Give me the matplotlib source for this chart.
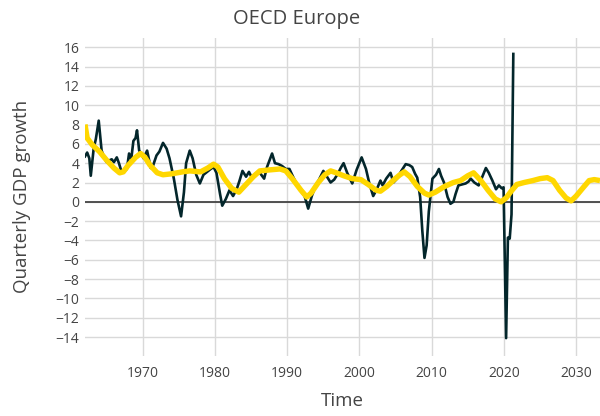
import matplotlib
matplotlib.use("Agg")
import matplotlib.pyplot as plt

plt.rcParams['font.family'] = ['Open Sans', 'DejaVu Sans']

title = "OECD Europe"
xlabel = "Time"
ylabel = "Quarterly GDP growth"

gdp_years = [1962.0, 1962.3, 1962.6, 1962.8, 1963.2, 1963.5, 1963.9, 1964.3, 1964.7, 1965.0,
             1965.4, 1965.7, 1966.0, 1966.4, 1966.7, 1967.1, 1967.5, 1967.8, 1968.1, 1968.4,
             1968.7, 1969.0, 1969.2, 1969.5, 1969.8, 1970.1, 1970.6, 1971.1, 1971.4, 1971.9,
             1972.3, 1972.8, 1973.3, 1973.7, 1974.3, 1974.8, 1975.3, 1975.7, 1976.0, 1976.5,
             1976.9, 1977.4, 1977.9, 1978.4, 1978.9, 1979.4, 1979.8, 1980.2, 1980.7, 1981.0,
             1981.5, 1982.0, 1982.5, 1983.0, 1983.4, 1983.8, 1984.3, 1984.7, 1985.1, 1985.6,
             1986.2, 1986.8, 1987.2, 1987.9, 1988.3, 1988.8, 1989.3, 1989.8, 1990.3, 1990.8,
             1991.4, 1991.9, 1992.4, 1992.9, 1993.4, 1993.9, 1994.4, 1995.0, 1995.5, 1996.0,
             1996.5, 1997.0, 1997.4, 1997.8, 1998.3, 1999.0, 1999.6, 2000.3, 2000.9, 2001.4,
             2001.9, 2002.4, 2002.9, 2003.2, 2003.7, 2004.3, 2004.7, 2005.2, 2005.8, 2006.4,
             2006.9, 2007.3, 2007.7, 2008.0, 2008.4, 2008.7, 2009.0, 2009.3, 2009.6, 2010.1,
             2010.6, 2011.0, 2011.3, 2011.7, 2012.2, 2012.6, 2013.0, 2013.3, 2013.7, 2014.2,
             2014.7, 2015.1, 2015.4, 2015.9, 2016.5, 2016.9, 2017.5, 2017.9, 2018.4, 2018.9,
             2019.3, 2019.7, 2019.95, 2020.3, 2020.55, 2020.8, 2021.05, 2021.3]
gdp_values = [4.7, 5.1, 4.5, 2.7, 5.5, 6.5, 8.4, 5.3, 4.5, 4.1,
              4.3, 4.4, 4.1, 4.6, 4.0, 3.0, 3.2, 3.4, 5.0, 4.4,
              6.3, 6.6, 7.4, 5.3, 5.0, 4.5, 5.3, 3.5, 3.7, 4.8,
              5.2, 6.1, 5.5, 4.5, 2.4, 0.2, -1.5, 1.0, 4.0, 5.3,
              4.5, 2.8, 1.9, 2.8, 3.1, 3.4, 3.6, 3.0, 0.8, -0.4,
              0.3, 1.2, 0.6, 1.3, 2.2, 3.2, 2.6, 3.1, 2.5, 2.9,
              3.0, 2.4, 3.6, 5.0, 4.0, 3.9, 3.7, 3.4, 3.4, 2.6,
              1.7, 1.1, 0.6, -0.7, 0.6, 1.6, 2.3, 3.2, 2.6, 2.0,
              2.3, 2.9, 3.5, 4.0, 3.0, 1.9, 3.3, 4.6, 3.4, 1.8,
              0.6, 1.3, 2.2, 1.7, 2.4, 3.0, 2.0, 2.4, 3.2, 3.9,
              3.8, 3.6, 2.9, 2.5, 0.5, -3.0, -5.8, -4.5, -1.0, 2.4,
              2.8, 3.4, 2.7, 2.0, 0.5, -0.2, 0.0, 0.8, 1.7, 1.8,
              1.9, 2.1, 2.4, 2.0, 1.7, 2.4, 3.5, 3.0, 2.2, 1.3,
              1.7, 1.4, 1.5, -14.1, -3.7, -3.8, -1.3, 15.3]

trend_years = [1962.0, 1962.3, 1963.0, 1964.0, 1965.0, 1966.0, 1966.8, 1967.3, 1968.0, 1969.0,
               1969.7, 1970.3, 1971.0, 1972.0, 1972.8, 1974.0, 1975.5, 1976.5, 1978.0, 1979.0,
               1979.8, 1980.4, 1981.3, 1982.3, 1983.3, 1984.3, 1985.3, 1986.2, 1987.5, 1989.0,
               1989.8, 1990.8, 1991.9, 1992.7, 1993.3, 1994.3, 1995.2, 1996.0, 1996.8, 1997.8,
               1999.0, 2000.2, 2001.2, 2002.3, 2002.9, 2003.8, 2004.8, 2005.6, 2006.2, 2007.0,
               2008.0, 2009.0, 2009.6, 2010.5, 2011.8, 2013.0, 2014.0, 2015.0, 2015.8, 2016.8,
               2017.8, 2018.8, 2019.6, 2020.3, 2021.0, 2021.8, 2022.8, 2024.0, 2025.0, 2026.0,
               2026.8, 2027.7, 2028.6, 2029.3, 2030.0, 2031.0, 2031.8, 2032.5, 2033.3]
trend_values = [8.0, 6.6, 5.9, 5.2, 4.3, 3.5, 3.0, 3.1, 3.8, 4.6,
                5.0, 4.6, 3.8, 3.0, 2.8, 2.9, 3.1, 3.2, 3.1, 3.5,
                3.9, 3.6, 2.4, 1.4, 1.0, 1.8, 2.6, 3.2, 3.3, 3.4,
                3.2, 2.3, 1.2, 0.5, 0.9, 2.0, 2.8, 3.2, 3.0, 2.7,
                2.4, 2.3, 1.8, 1.2, 1.1, 1.6, 2.3, 2.8, 3.1, 2.6,
                1.6, 0.9, 0.7, 1.0, 1.6, 2.0, 2.2, 2.7, 3.0, 2.2,
                1.2, 0.3, 0.0, 0.4, 1.1, 1.8, 2.0, 2.2, 2.4, 2.5,
                2.2, 1.2, 0.4, 0.1, 0.6, 1.5, 2.2, 2.3, 2.2]

x_ticks = [1970, 1980, 1990, 2000, 2010, 2020, 2030]
y_ticks = list(range(-14, 17, 2))

fig = plt.figure(figsize=(6.0, 4.16), dpi=100)
ax = fig.add_axes([85/600, 1 - 356/416, 515/600, (356 - 38)/416])

ax.plot(gdp_years, gdp_values, color='#03262b', lw=1.9, solid_joinstyle='round', zorder=3)
ax.plot(trend_years, trend_values, color='#FFD700', lw=3.9, solid_capstyle='butt',
        solid_joinstyle='round', zorder=4)
ax.axhline(0, color='#444444', lw=1.3, zorder=2)

ax.set_xlim(1962.0, 2033.3)
ax.set_ylim(-15.95, 16.95)
ax.set_xticks(x_ticks)
ax.set_yticks(y_ticks)
ax.set_yticklabels([("\u2212" + str(-v)) if v < 0 else str(v) for v in y_ticks])
ax.grid(True, color='#d9d9d9', lw=1.0, zorder=0)
ax.set_axisbelow(True)
for s in ax.spines.values():
    s.set_visible(False)
ax.tick_params(length=0, labelsize=10, labelcolor='#444444', pad=4)
ax.tick_params(axis='x', pad=7)

fig.text(0.495, 0.955, title, ha='center', va='center', fontsize=14.5, color='#444444')
fig.text(342/600, 1 - 401/416, xlabel, ha='center', va='center', fontsize=13.5, color='#444444')
fig.text(22/600, 1 - 196/416, ylabel, ha='center', va='center', rotation=90,
         fontsize=13.5, color='#444444')

fig.savefig('out.png', dpi=100)
